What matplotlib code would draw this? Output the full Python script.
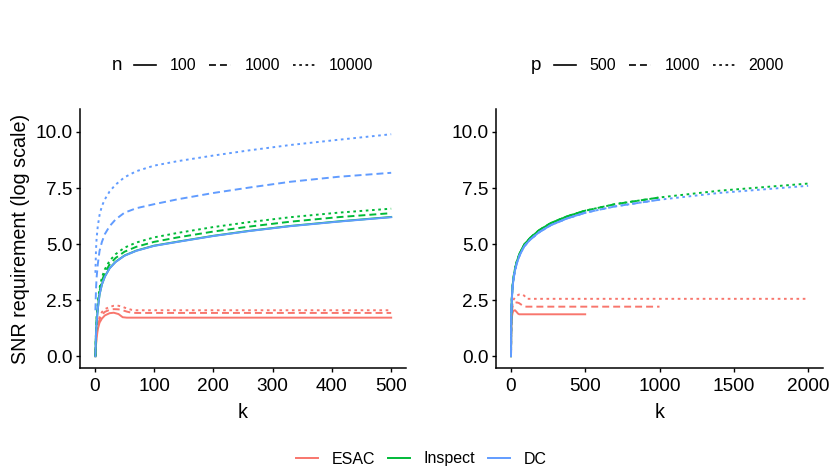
import matplotlib
matplotlib.use("Agg")
import matplotlib.pyplot as plt
from matplotlib.lines import Line2D

plt.rcParams['font.family'] = ['Liberation Sans', 'DejaVu Sans']
plt.rcParams['lines.scale_dashes'] = False

methods = ['ESAC', 'Inspect', 'DC']
colors = ['#F8766D', '#00BA38', '#619CFF']
n_labels = ['100', '1000', '10000']
p_labels = ['500', '1000', '2000']
p_values = [500, 1000, 2000]

# left panel: different n, k up to 500
k_left = [1, 2, 3, 5, 8, 12, 17, 25, 35, 50, 70, 100, 140, 200, 260, 330, 410, 500]
dc_n100 = [0.0, 1.0, 1.5, 2.1, 2.75, 3.2, 3.55, 3.92, 4.2, 4.48, 4.7, 4.92, 5.1, 5.36, 5.58, 5.8, 6.0, 6.2]
dc_n1000 = [2.05, 3.0, 3.5, 4.1, 4.7, 5.1, 5.45, 5.8, 6.1, 6.4, 6.6, 6.78, 7.0, 7.28, 7.52, 7.78, 8.0, 8.18]
dc_n10000 = [3.72, 4.75, 5.25, 5.8, 6.3, 6.7, 7.0, 7.35, 7.65, 7.98, 8.25, 8.5, 8.7, 8.95, 9.18, 9.42, 9.65, 9.9]
insp_n100 = [0.0, 1.01, 1.51, 2.11, 2.76, 3.21, 3.56, 3.93, 4.21, 4.49, 4.71, 4.93, 5.11, 5.37, 5.59, 5.81, 6.01, 6.21]
insp_n1000 = [0.0, 1.1, 1.62, 2.24, 2.9, 3.37, 3.72, 4.1, 4.38, 4.66, 4.88, 5.1, 5.3, 5.56, 5.78, 6.0, 6.2, 6.38]
insp_n10000 = [0.0, 1.2, 1.74, 2.38, 3.05, 3.52, 3.88, 4.26, 4.55, 4.84, 5.07, 5.3, 5.5, 5.76, 5.98, 6.2, 6.4, 6.58]

esac_k_left = [1, 2, 3, 5, 8, 12, 17, 25, 32, 40, 47, 54, 62, 70, 500]
esac_n100 = [0.0, 0.5, 0.8, 1.2, 1.5, 1.68, 1.82, 1.92, 1.94, 1.88, 1.74, 1.72, 1.72, 1.72, 1.72]
esac_n1000 = [0.0, 0.6, 0.95, 1.35, 1.65, 1.85, 1.98, 2.07, 2.1, 2.09, 2.05, 1.99, 1.94, 1.93, 1.93]
esac_n10000 = [0.0, 0.65, 1.0, 1.42, 1.75, 1.97, 2.1, 2.2, 2.25, 2.25, 2.2, 2.13, 2.07, 2.05, 2.05]

# right panel: different p, k up to p
k_right = [1, 2, 3, 5, 8, 12, 18, 27, 40, 60, 90, 130, 190, 270, 380, 500, 700, 1000, 1400, 2000]
dc_right = [0.0, 1.3, 1.8, 2.3, 2.7, 3.1, 3.45, 3.8, 4.15, 4.52, 4.9, 5.2, 5.53, 5.85, 6.15, 6.4, 6.68, 6.98, 7.28, 7.6]
insp_right = [0.0, 1.35, 1.85, 2.36, 2.77, 3.17, 3.53, 3.88, 4.23, 4.6, 4.98, 5.28, 5.62, 5.94, 6.24, 6.49, 6.78, 7.08, 7.38, 7.7]

esac_k_p500 = [1, 2, 3, 5, 8, 12, 18, 28, 38, 48, 56, 500]
esac_p500 = [0.0, 0.8, 1.15, 1.55, 1.8, 1.95, 2.03, 2.05, 1.98, 1.9, 1.87, 1.87]
esac_k_p1000 = [1, 2, 3, 5, 8, 12, 18, 28, 40, 55, 70, 85, 95, 1000]
esac_p1000 = [0.0, 0.9, 1.3, 1.75, 2.05, 2.22, 2.32, 2.38, 2.4, 2.37, 2.3, 2.24, 2.21, 2.21]
esac_k_p2000 = [1, 2, 3, 5, 8, 12, 18, 27, 40, 55, 75, 90, 100, 108, 2000]
esac_p2000 = [0.0, 0.95, 1.4, 1.9, 2.2, 2.4, 2.52, 2.62, 2.7, 2.75, 2.76, 2.7, 2.62, 2.56, 2.56]

styles = ['-', (0, (5, 2.9)), (0, (1.9, 2.6))]
lw = 1.4

fig = plt.figure(figsize=(8.3, 4.75), dpi=100)
ax1 = fig.add_axes([80 / 830, 1 - 368 / 475, 326 / 830, 259 / 475])
ax2 = fig.add_axes([496 / 830, 1 - 368 / 475, 327 / 830, 259 / 475])

# left panel
esac_left = [esac_n100, esac_n1000, esac_n10000]
insp_left = [insp_n100, insp_n1000, insp_n10000]
dc_left = [dc_n100, dc_n1000, dc_n10000]
for i in range(3):
    ax1.plot(esac_k_left, esac_left[i], color=colors[0], ls=styles[i], lw=lw)
for i in range(3):
    ax1.plot(k_left, insp_left[i], color=colors[1], ls=styles[i], lw=lw)
for i in range(3):
    ax1.plot(k_left, dc_left[i], color=colors[2], ls=styles[i], lw=lw)

# right panel
esac_k_right = [esac_k_p500, esac_k_p1000, esac_k_p2000]
esac_right = [esac_p500, esac_p1000, esac_p2000]
for i in range(3):
    ax2.plot(esac_k_right[i], esac_right[i], color=colors[0], ls=styles[i], lw=lw)
for i in range(3):
    m = len([k for k in k_right if k <= p_values[i]])
    ax2.plot(k_right[:m], insp_right[:m], color=colors[1], ls=styles[i], lw=lw)
for i in range(3):
    m = len([k for k in k_right if k <= p_values[i]])
    ax2.plot(k_right[:m], dc_right[:m], color=colors[2], ls=styles[i], lw=lw)

ax1.set_xlim(-25, 525)
ax1.set_xticks([0, 100, 200, 300, 400, 500])
ax2.set_xlim(-100, 2100)
ax2.set_xticks([0, 500, 1000, 1500, 2000])
for ax in [ax1, ax2]:
    ax.set_ylim(-0.525, 11.025)
    ax.set_yticks([0, 2.5, 5, 7.5, 10])
    ax.set_yticklabels(['0.0', '2.5', '5.0', '7.5', '10.0'])
    for s in ['top', 'right']:
        ax.spines[s].set_visible(False)
    for s in ['left', 'bottom']:
        ax.spines[s].set_linewidth(1.1)
    ax.tick_params(direction='out', length=3, width=1.0, pad=2.5, labelsize=13.7, colors='black')
    ax.tick_params(axis='x', pad=4)
    ax.set_xlabel('k', fontsize=14.2, labelpad=6)
ax1.set_ylabel('SNR requirement (log scale)', fontsize=14.2, labelpad=4)

# top legends (linetype)
lt_handles = [Line2D([], [], color='black', ls=styles[i], lw=1.2) for i in range(3)]
leg_kw = dict(loc='center left', ncol=3, frameon=False, fontsize=11.5, handlelength=1.375,
              handletextpad=0.85, columnspacing=0.8, borderpad=0, borderaxespad=0,
              bbox_transform=fig.transFigure)
fig.text(117 / 830, 1 - 66 / 475, 'n', fontsize=13.5, ha='center', va='center')
ax1.legend(lt_handles, n_labels, bbox_to_anchor=(134 / 830, 1 - 66 / 475), **leg_kw)
fig.text(536 / 830, 1 - 66 / 475, 'p', fontsize=13.5, ha='center', va='center')
ax2.legend(lt_handles, p_labels, bbox_to_anchor=(554 / 830, 1 - 66 / 475), **leg_kw)

# bottom legend (method)
col_handles = [Line2D([], [], color=colors[i], lw=1.4) for i in range(3)]
fig.legend(col_handles, methods, bbox_to_anchor=(296 / 830, 1 - 459 / 475), **leg_kw)

fig.savefig('out.png', dpi=100)
